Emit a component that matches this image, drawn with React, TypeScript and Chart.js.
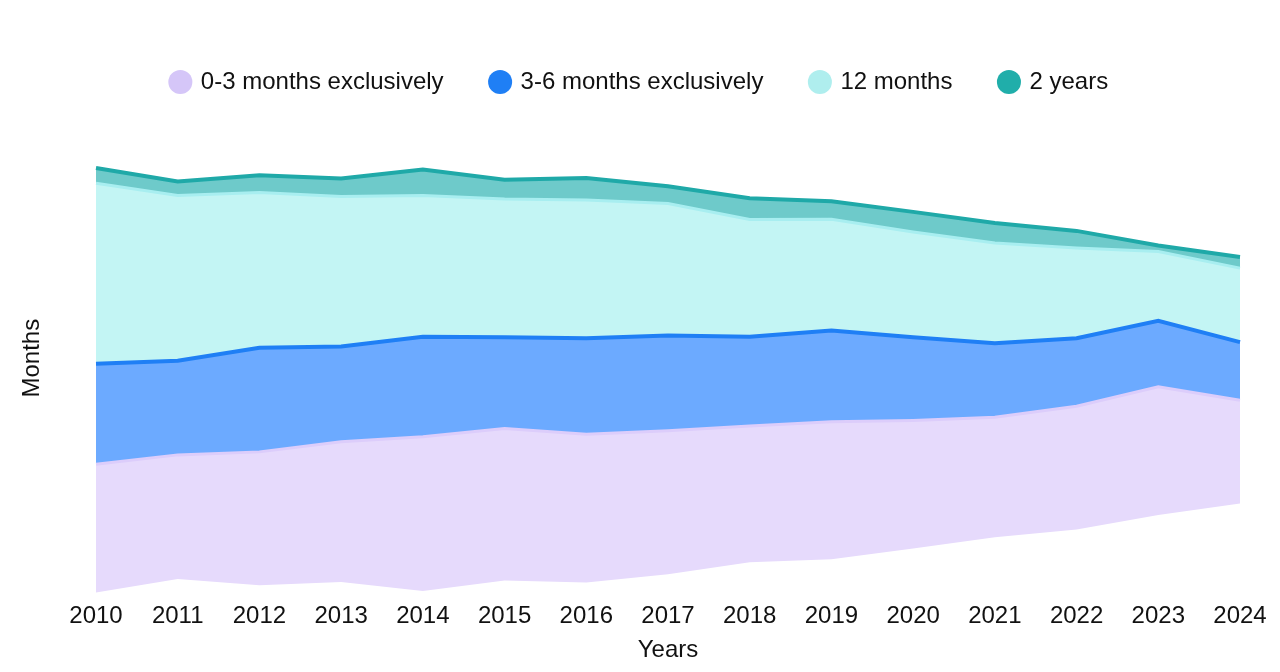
import React, { useEffect, useRef } from "react";
import { Chart, registerables } from "chart.js";

Chart.register(...registerables);

const years = ["2010", "2011", "2012", "2013", "2014", "2015", "2016", "2017", "2018", "2019", "2020", "2021", "2022", "2023", "2024"];
const months0to3 = [32, 31, 33.3, 35, 38.5, 38, 37, 35.8, 34, 34.3, 32, 30, 30.8, 32, 25.8];
const months3to6 = [25.1, 23.5, 26, 23.8, 25, 22.8, 24, 23.8, 22.3, 22.8, 20.8, 18.5, 17, 16.5, 14.5];
const months12 = [45.1, 41.3, 38.8, 37.5, 35.3, 34.5, 34.5, 33, 29.3, 27.8, 26.3, 25, 22.5, 17.3, 18.5];
const years2 = [3.8, 3.5, 4.3, 4.5, 6.5, 4.8, 5.5, 4.3, 5.3, 4.5, 5, 5, 4.3, 1.5, 2.8];

const seriesNames = ["0-3 months exclusively", "3-6 months exclusively", "12 months", "2 years"];
const seriesValues = [months0to3, months3to6, months12, years2];
const lineColors = ["#dccdfb", "#1f7ff5", "#a8eef0", "#1fa9a8"];
const fillColors = ["#e6dafc", "#6caaff", "#c3f5f4", "#6ecaca"];
const legendColors = ["#d5c6f8", "#1f7ff5", "#afeeee", "#20aeaa"];
const lineWidths = [3, 4, 3, 4];

const CENTER = 60;
const LEGEND_EXTRA = 13;

export default function App() {
  const ref = useRef<HTMLCanvasElement | null>(null);

  useEffect(() => {
    if (!ref.current) return;
    Chart.defaults.font.family = "'Liberation Sans', Arial, sans-serif";
    const baseline = years.map((_, i) => {
      const total = seriesValues.reduce((s, arr) => s + arr[i], 0);
      return CENTER - total / 2;
    });
    const datasets: any[] = [
      {
        label: "__base",
        data: baseline,
        borderWidth: 0,
        borderColor: "rgba(0,0,0,0)",
        backgroundColor: "rgba(0,0,0,0)",
        pointRadius: 0,
        fill: false,
      },
      ...seriesNames.map((name, k) => ({
        label: name,
        data: seriesValues[k],
        borderColor: lineColors[k],
        backgroundColor: fillColors[k],
        borderWidth: lineWidths[k],
        pointRadius: 0,
        tension: 0,
        fill: "-1",
      })),
    ];
    const chart = new Chart(ref.current, {
      type: "line",
      data: { labels: years, datasets },
      options: {
        animation: false,
        responsive: true,
        maintainAspectRatio: false,
        layout: { padding: { top: 14, bottom: 0, left: 32, right: 32 } },
        plugins: {
          tooltip: { enabled: false },
          legend: {
            position: "top",
            labels: {
              usePointStyle: true,
              pointStyle: "circle",
              boxWidth: 17,
              boxHeight: 17,
              padding: 48,
              color: "#111",
              font: { size: 24 },
              generateLabels: (c: any) => {
                const items = Chart.defaults.plugins.legend.labels.generateLabels(c);
                return items
                  .filter((it: any) => it.datasetIndex !== 0)
                  .map((it: any) => {
                    const k = it.datasetIndex - 1;
                    return { ...it, fillStyle: legendColors[k], strokeStyle: legendColors[k], lineWidth: 0 };
                  });
              },
            },
          },
        },
        scales: {
          x: {
            grid: { display: false, drawTicks: false },
            border: { display: false },
            ticks: { color: "#111", font: { size: 24 }, padding: 3, maxRotation: 0, autoSkip: false },
            title: { display: true, text: "Years", color: "#111", font: { size: 24 }, padding: { top: 2, bottom: -1 } },
          },
          y: {
            stacked: true,
            min: 5.25,
            max: 125.75,
            grid: { display: false, drawTicks: false },
            border: { display: false },
            ticks: { display: false },
            title: { display: true, text: "Months", color: "#111", font: { size: 24 }, padding: { top: -22.4, bottom: 49.6 } },
          },
        },
      },
    });
    const legend: any = (chart as any).legend;
    if (legend) {
      const origFit = legend.fit.bind(legend);
      legend.fit = function () {
        origFit();
        this.height += LEGEND_EXTRA;
      };
      chart.update();
    }
    return () => chart.destroy();
  }, []);

  return (
    <div style={{ position: "relative", width: "1264px", height: "656px" }}>
      <canvas ref={ref} />
    </div>
  );
}
